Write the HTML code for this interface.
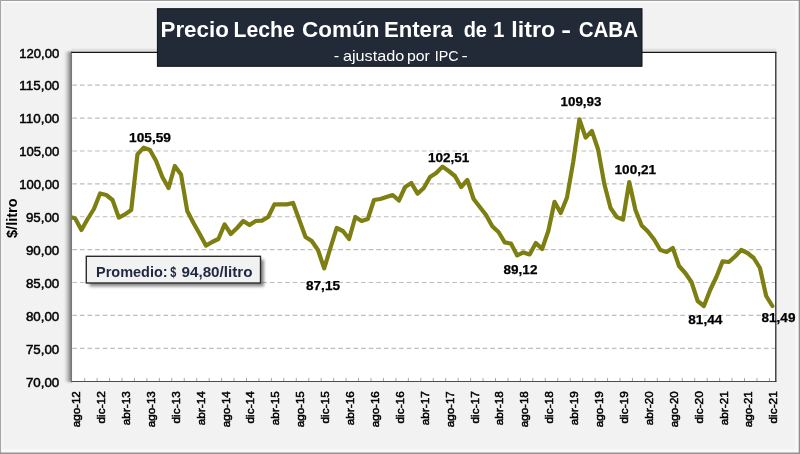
<!DOCTYPE html>
<html lang="es">
<head>
<meta charset="utf-8">
<title>Precio Leche Común Entera de 1 litro - CABA</title>
<style>
html,body{margin:0;padding:0;background:#f2f2f2;}
body{width:800px;height:454px;overflow:hidden;font-family:"Liberation Sans", Arial, Helvetica, sans-serif;}
svg{display:block;}
text{font-family:"Liberation Sans", Arial, Helvetica, sans-serif;}
.ax{font-size:12.2px;fill:#000;stroke:#000;stroke-width:0.45px;}
.xl{font-size:11.4px;fill:#000;stroke:#000;stroke-width:0.5px;}
.dl{font-size:12.2px;font-weight:bold;fill:#000;stroke:#000;stroke-width:0.25px;}
</style>
</head>
<body>
<svg width="800" height="454" viewBox="0 0 800 454">
<defs>
<filter id="sh" x="-20%" y="-20%" width="140%" height="140%"><feGaussianBlur stdDeviation="0.8"/></filter>
<filter id="sh2" x="-20%" y="-50%" width="140%" height="200%"><feGaussianBlur stdDeviation="1.8"/></filter>
<clipPath id="pc"><rect x="71.8" y="52.3" width="703.8000000000001" height="328.9"/></clipPath>
<linearGradient id="lg" x1="0" y1="0" x2="1" y2="0"><stop offset="0" stop-color="#000" stop-opacity="0"/><stop offset="0.42" stop-color="#000" stop-opacity="0.2"/><stop offset="0.65" stop-color="#000" stop-opacity="0.33"/><stop offset="0.8" stop-color="#000" stop-opacity="0.5"/><stop offset="1" stop-color="#000" stop-opacity="0.58"/></linearGradient>
<clipPath id="lc"><rect x="0" y="0" width="72.15" height="454"/></clipPath>
</defs>
<!-- chart background -->
<rect x="0" y="0" width="800" height="454" fill="#f2f2f2"/>
<rect x="0" y="0" width="800" height="2.3" fill="#fdfdfd"/>
<rect x="0" y="0" width="2.4" height="454" fill="#fdfdfd"/>
<rect x="795.4" y="2" width="4" height="452" fill="#f8f8f8"/>
<rect x="2" y="449.2" width="798" height="4" fill="#f8f8f8"/>
<rect x="0" y="0" width="800" height="1" fill="#a0a0a0"/>
<rect x="0" y="0" width="1.1" height="454" fill="#a6a6a6"/>
<rect x="798.7" y="0" width="1.3" height="454" fill="#8e8e8e"/>
<rect x="0" y="452.5" width="800" height="1.5" fill="#939393"/>

<g clip-path="url(#lc)"><g filter="url(#sh)"><rect x="64.3" y="51.699999999999996" width="7.9" height="330.29999999999995" fill="url(#lg)"/><rect x="72.2" y="51.699999999999996" width="4" height="330.29999999999995" fill="#000" opacity="0.58"/></g></g>
<rect x="72" y="48.699999999999996" width="704.4" height="3.4" fill="#000" opacity="0.07"/>
<rect x="72.15" y="52.3" width="703.45" height="328.9" fill="#ffffff"/>
<line x1="72.3" y1="348.31" x2="775.1" y2="348.31" stroke="#bdbdbd" stroke-width="1.15" stroke-dasharray="4.6 3"/>
<line x1="72.3" y1="315.42" x2="775.1" y2="315.42" stroke="#bdbdbd" stroke-width="1.15" stroke-dasharray="4.6 3"/>
<line x1="72.3" y1="282.53" x2="775.1" y2="282.53" stroke="#bdbdbd" stroke-width="1.15" stroke-dasharray="4.6 3"/>
<line x1="72.3" y1="249.64" x2="775.1" y2="249.64" stroke="#bdbdbd" stroke-width="1.15" stroke-dasharray="4.6 3"/>
<line x1="72.3" y1="216.75" x2="775.1" y2="216.75" stroke="#bdbdbd" stroke-width="1.15" stroke-dasharray="4.6 3"/>
<line x1="72.3" y1="183.86" x2="775.1" y2="183.86" stroke="#bdbdbd" stroke-width="1.15" stroke-dasharray="4.6 3"/>
<line x1="72.3" y1="150.97" x2="775.1" y2="150.97" stroke="#bdbdbd" stroke-width="1.15" stroke-dasharray="4.6 3"/>
<line x1="72.3" y1="118.08" x2="775.1" y2="118.08" stroke="#bdbdbd" stroke-width="1.15" stroke-dasharray="4.6 3"/>
<line x1="72.3" y1="85.19" x2="775.1" y2="85.19" stroke="#bdbdbd" stroke-width="1.15" stroke-dasharray="4.6 3"/>
<path d="M84.65 381.2 v-3.2 M97.10 381.2 v-3.2 M109.55 381.2 v-3.2 M122.00 381.2 v-3.2 M134.45 381.2 v-3.2 M146.90 381.2 v-3.2 M159.35 381.2 v-3.2 M171.80 381.2 v-3.2 M184.25 381.2 v-3.2 M196.70 381.2 v-3.2 M209.15 381.2 v-3.2 M221.60 381.2 v-3.2 M234.05 381.2 v-3.2 M246.50 381.2 v-3.2 M258.95 381.2 v-3.2 M271.40 381.2 v-3.2 M283.85 381.2 v-3.2 M296.30 381.2 v-3.2 M308.75 381.2 v-3.2 M321.20 381.2 v-3.2 M333.65 381.2 v-3.2 M346.10 381.2 v-3.2 M358.55 381.2 v-3.2 M371.00 381.2 v-3.2 M383.45 381.2 v-3.2 M395.90 381.2 v-3.2 M408.35 381.2 v-3.2 M420.80 381.2 v-3.2 M433.25 381.2 v-3.2 M445.70 381.2 v-3.2 M458.15 381.2 v-3.2 M470.60 381.2 v-3.2 M483.05 381.2 v-3.2 M495.50 381.2 v-3.2 M507.95 381.2 v-3.2 M520.40 381.2 v-3.2 M532.85 381.2 v-3.2 M545.30 381.2 v-3.2 M557.75 381.2 v-3.2 M570.20 381.2 v-3.2 M582.65 381.2 v-3.2 M595.10 381.2 v-3.2 M607.55 381.2 v-3.2 M620.00 381.2 v-3.2 M632.45 381.2 v-3.2 M644.90 381.2 v-3.2 M657.35 381.2 v-3.2 M669.80 381.2 v-3.2 M682.25 381.2 v-3.2 M694.70 381.2 v-3.2 M707.15 381.2 v-3.2 M719.60 381.2 v-3.2 M732.05 381.2 v-3.2 M744.50 381.2 v-3.2 M756.95 381.2 v-3.2 M769.40 381.2 v-3.2" stroke="#9c9c9c" stroke-width="0.9" fill="none"/>
<path d="M71.2 52.4 H776.45" fill="none" stroke="#141414" stroke-width="1.15"/>
<path d="M71.1 381.5 H776.2" fill="none" stroke="#4a4a4a" stroke-width="1.1"/>
<path d="M775.8000000000001 382.05 V52.3" fill="none" stroke="#2a2a2a" stroke-width="1.3"/>
<g clip-path="url(#pc)"><path d="M72.30 217.60 L75.20 218.40 L81.42 230.00 L87.65 219.00 L93.88 209.00 L100.10 193.50 L106.33 195.00 L112.55 200.00 L118.78 217.60 L125.00 214.40 L131.22 210.00 L137.45 154.40 L143.68 147.60 L149.90 150.00 L156.12 161.00 L162.35 177.00 L168.57 188.00 L174.80 166.00 L181.02 174.50 L187.25 211.00 L193.47 223.00 L199.70 234.00 L205.93 245.60 L212.15 242.00 L218.38 239.00 L224.60 224.40 L230.82 234.00 L237.05 228.00 L243.27 221.00 L249.50 225.00 L255.72 221.00 L261.95 220.60 L268.18 217.00 L274.40 204.40 L280.62 204.40 L286.85 204.40 L293.07 203.00 L299.30 220.00 L305.52 237.00 L311.75 241.00 L317.97 250.00 L324.20 268.40 L330.43 248.00 L336.65 228.00 L342.88 231.00 L349.10 239.00 L355.32 217.00 L361.55 221.00 L367.77 219.00 L374.00 200.00 L380.22 199.00 L386.45 197.00 L392.67 195.00 L398.90 200.50 L405.12 187.00 L411.35 183.00 L417.57 193.60 L423.80 188.00 L430.02 177.00 L436.25 173.00 L442.47 166.60 L448.70 171.00 L454.92 176.00 L461.15 187.00 L467.37 180.00 L473.60 199.00 L479.82 207.00 L486.05 215.00 L492.27 226.20 L498.50 232.00 L504.72 242.40 L510.95 243.60 L517.17 255.40 L523.40 252.40 L529.62 254.40 L535.85 243.00 L542.08 249.00 L548.30 231.00 L554.52 201.80 L560.75 213.00 L566.98 197.50 L573.20 162.00 L579.42 119.40 L585.65 137.60 L591.88 131.00 L598.10 149.50 L604.33 184.00 L610.55 208.00 L616.77 217.00 L623.00 219.60 L629.23 182.00 L635.45 210.00 L641.68 225.50 L647.90 231.50 L654.12 239.50 L660.35 250.00 L666.58 252.00 L672.80 248.00 L679.02 266.00 L685.25 273.00 L691.48 282.00 L697.70 301.00 L703.92 306.00 L710.15 290.00 L716.38 277.00 L722.60 261.40 L728.83 262.00 L735.05 256.50 L741.27 250.00 L747.50 253.00 L753.73 258.00 L759.95 268.00 L766.17 296.00 L772.40 306.00" fill="none" stroke="#7d7f12" stroke-width="4.2" stroke-linejoin="round" stroke-linecap="round"/></g>
<text class="ax" x="59.3" y="387.00" text-anchor="end" textLength="33.4" lengthAdjust="spacingAndGlyphs">70,00</text>
<text class="ax" x="59.3" y="353.51" text-anchor="end" textLength="33.4" lengthAdjust="spacingAndGlyphs">75,00</text>
<text class="ax" x="59.3" y="320.62" text-anchor="end" textLength="33.4" lengthAdjust="spacingAndGlyphs">80,00</text>
<text class="ax" x="59.3" y="287.73" text-anchor="end" textLength="33.4" lengthAdjust="spacingAndGlyphs">85,00</text>
<text class="ax" x="59.3" y="254.84" text-anchor="end" textLength="33.4" lengthAdjust="spacingAndGlyphs">90,00</text>
<text class="ax" x="59.3" y="221.95" text-anchor="end" textLength="33.4" lengthAdjust="spacingAndGlyphs">95,00</text>
<text class="ax" x="59.3" y="189.06" text-anchor="end" textLength="40.0" lengthAdjust="spacingAndGlyphs">100,00</text>
<text class="ax" x="59.3" y="156.17" text-anchor="end" textLength="40.0" lengthAdjust="spacingAndGlyphs">105,00</text>
<text class="ax" x="59.3" y="123.28" text-anchor="end" textLength="40.0" lengthAdjust="spacingAndGlyphs">110,00</text>
<text class="ax" x="59.3" y="90.39" text-anchor="end" textLength="40.0" lengthAdjust="spacingAndGlyphs">115,00</text>
<text class="ax" x="59.3" y="57.50" text-anchor="end" textLength="40.0" lengthAdjust="spacingAndGlyphs">120,00</text>
<text transform="translate(17.0 238) rotate(-90)" font-size="14px" font-weight="bold" fill="#000" textLength="39.6" lengthAdjust="spacingAndGlyphs">$/litro</text>
<text class="xl" transform="translate(80.10 391.2) rotate(-90)" text-anchor="end" textLength="36.0" lengthAdjust="spacingAndGlyphs">ago-12</text>
<text class="xl" transform="translate(105.00 391.2) rotate(-90)" text-anchor="end" textLength="32.3" lengthAdjust="spacingAndGlyphs">dic-12</text>
<text class="xl" transform="translate(129.90 391.2) rotate(-90)" text-anchor="end" textLength="34.0" lengthAdjust="spacingAndGlyphs">abr-13</text>
<text class="xl" transform="translate(154.80 391.2) rotate(-90)" text-anchor="end" textLength="36.0" lengthAdjust="spacingAndGlyphs">ago-13</text>
<text class="xl" transform="translate(179.70 391.2) rotate(-90)" text-anchor="end" textLength="32.3" lengthAdjust="spacingAndGlyphs">dic-13</text>
<text class="xl" transform="translate(204.60 391.2) rotate(-90)" text-anchor="end" textLength="34.0" lengthAdjust="spacingAndGlyphs">abr-14</text>
<text class="xl" transform="translate(229.50 391.2) rotate(-90)" text-anchor="end" textLength="36.0" lengthAdjust="spacingAndGlyphs">ago-14</text>
<text class="xl" transform="translate(254.40 391.2) rotate(-90)" text-anchor="end" textLength="32.3" lengthAdjust="spacingAndGlyphs">dic-14</text>
<text class="xl" transform="translate(279.30 391.2) rotate(-90)" text-anchor="end" textLength="34.0" lengthAdjust="spacingAndGlyphs">abr-15</text>
<text class="xl" transform="translate(304.20 391.2) rotate(-90)" text-anchor="end" textLength="36.0" lengthAdjust="spacingAndGlyphs">ago-15</text>
<text class="xl" transform="translate(329.10 391.2) rotate(-90)" text-anchor="end" textLength="32.3" lengthAdjust="spacingAndGlyphs">dic-15</text>
<text class="xl" transform="translate(354.00 391.2) rotate(-90)" text-anchor="end" textLength="34.0" lengthAdjust="spacingAndGlyphs">abr-16</text>
<text class="xl" transform="translate(378.90 391.2) rotate(-90)" text-anchor="end" textLength="36.0" lengthAdjust="spacingAndGlyphs">ago-16</text>
<text class="xl" transform="translate(403.80 391.2) rotate(-90)" text-anchor="end" textLength="32.3" lengthAdjust="spacingAndGlyphs">dic-16</text>
<text class="xl" transform="translate(428.70 391.2) rotate(-90)" text-anchor="end" textLength="34.0" lengthAdjust="spacingAndGlyphs">abr-17</text>
<text class="xl" transform="translate(453.60 391.2) rotate(-90)" text-anchor="end" textLength="36.0" lengthAdjust="spacingAndGlyphs">ago-17</text>
<text class="xl" transform="translate(478.50 391.2) rotate(-90)" text-anchor="end" textLength="32.3" lengthAdjust="spacingAndGlyphs">dic-17</text>
<text class="xl" transform="translate(503.40 391.2) rotate(-90)" text-anchor="end" textLength="34.0" lengthAdjust="spacingAndGlyphs">abr-18</text>
<text class="xl" transform="translate(528.30 391.2) rotate(-90)" text-anchor="end" textLength="36.0" lengthAdjust="spacingAndGlyphs">ago-18</text>
<text class="xl" transform="translate(553.20 391.2) rotate(-90)" text-anchor="end" textLength="32.3" lengthAdjust="spacingAndGlyphs">dic-18</text>
<text class="xl" transform="translate(578.10 391.2) rotate(-90)" text-anchor="end" textLength="34.0" lengthAdjust="spacingAndGlyphs">abr-19</text>
<text class="xl" transform="translate(603.00 391.2) rotate(-90)" text-anchor="end" textLength="36.0" lengthAdjust="spacingAndGlyphs">ago-19</text>
<text class="xl" transform="translate(627.90 391.2) rotate(-90)" text-anchor="end" textLength="32.3" lengthAdjust="spacingAndGlyphs">dic-19</text>
<text class="xl" transform="translate(652.80 391.2) rotate(-90)" text-anchor="end" textLength="34.0" lengthAdjust="spacingAndGlyphs">abr-20</text>
<text class="xl" transform="translate(677.70 391.2) rotate(-90)" text-anchor="end" textLength="36.0" lengthAdjust="spacingAndGlyphs">ago-20</text>
<text class="xl" transform="translate(702.60 391.2) rotate(-90)" text-anchor="end" textLength="32.3" lengthAdjust="spacingAndGlyphs">dic-20</text>
<text class="xl" transform="translate(727.50 391.2) rotate(-90)" text-anchor="end" textLength="34.0" lengthAdjust="spacingAndGlyphs">abr-21</text>
<text class="xl" transform="translate(752.40 391.2) rotate(-90)" text-anchor="end" textLength="36.0" lengthAdjust="spacingAndGlyphs">ago-21</text>
<text class="xl" transform="translate(777.30 391.2) rotate(-90)" text-anchor="end" textLength="32.3" lengthAdjust="spacingAndGlyphs">dic-21</text>
<text class="dl" x="150.0" y="141.6" text-anchor="middle" textLength="41.8" lengthAdjust="spacingAndGlyphs">105,59</text>
<text class="dl" x="323.0" y="289.7" text-anchor="middle" textLength="34.0" lengthAdjust="spacingAndGlyphs">87,15</text>
<text class="dl" x="448.7" y="161.7" text-anchor="middle" textLength="41.4" lengthAdjust="spacingAndGlyphs">102,51</text>
<text class="dl" x="520.5" y="274.1" text-anchor="middle" textLength="33.8" lengthAdjust="spacingAndGlyphs">89,12</text>
<text class="dl" x="581.0" y="105.7" text-anchor="middle" textLength="40.8" lengthAdjust="spacingAndGlyphs">109,93</text>
<text class="dl" x="635.3" y="173.7" text-anchor="middle" textLength="41.4" lengthAdjust="spacingAndGlyphs">100,21</text>
<text class="dl" x="705.3" y="323.7" text-anchor="middle" textLength="34.2" lengthAdjust="spacingAndGlyphs">81,44</text>
<text class="dl" x="778.5" y="322.1" text-anchor="middle" textLength="33.8" lengthAdjust="spacingAndGlyphs">81,49</text>
<rect x="89.5" y="259.5" width="174.5" height="27" fill="#000" opacity="0.45" filter="url(#sh2)"/>
<rect x="86.3" y="256.3" width="174.2" height="26.7" fill="#f2f2f2" stroke="#2b2b2b" stroke-width="1.4"/>
<text y="277" font-size="14.7px" font-weight="bold" fill="#1f2840"><tspan x="96.03" textLength="71.61" lengthAdjust="spacingAndGlyphs">Promedio:</tspan> <tspan x="170.36" textLength="6.05" lengthAdjust="spacingAndGlyphs">$</tspan> <tspan x="181.47" textLength="71.12" lengthAdjust="spacingAndGlyphs">94,80/litro</tspan></text>
<rect x="157.4" y="8.7" width="484.6" height="57.6" fill="#222a38" stroke="#0d1118" stroke-width="1"/>
<text y="37" font-size="21.4px" font-weight="bold" fill="#ffffff"><tspan x="160.50" textLength="68.37" lengthAdjust="spacingAndGlyphs">Precio</tspan> <tspan x="233.58" textLength="61.14" lengthAdjust="spacingAndGlyphs">Leche</tspan> <tspan x="302.08" textLength="77.31" lengthAdjust="spacingAndGlyphs">Común</tspan> <tspan x="383.92" textLength="68.94" lengthAdjust="spacingAndGlyphs">Entera</tspan> <tspan x="463.68" textLength="23.30" lengthAdjust="spacingAndGlyphs">de</tspan> <tspan x="493.24" textLength="11.12" lengthAdjust="spacingAndGlyphs">1</tspan> <tspan x="511.38" textLength="43.83" lengthAdjust="spacingAndGlyphs">litro</tspan> <tspan x="561.35" textLength="9.84" lengthAdjust="spacingAndGlyphs">-</tspan> <tspan x="578.66" textLength="59.39" lengthAdjust="spacingAndGlyphs">CABA</tspan></text>
<text y="61" font-size="13.9px" fill="#ffffff"><tspan x="333.67" textLength="5.46" lengthAdjust="spacingAndGlyphs">-</tspan> <tspan x="342.91" textLength="61.37" lengthAdjust="spacingAndGlyphs">ajustado</tspan> <tspan x="406.98" textLength="22.88" lengthAdjust="spacingAndGlyphs">por</tspan> <tspan x="434.68" textLength="23.87" lengthAdjust="spacingAndGlyphs">IPC</tspan> <tspan x="461.56" textLength="6.27" lengthAdjust="spacingAndGlyphs">-</tspan></text>
</svg>
</body>
</html>
